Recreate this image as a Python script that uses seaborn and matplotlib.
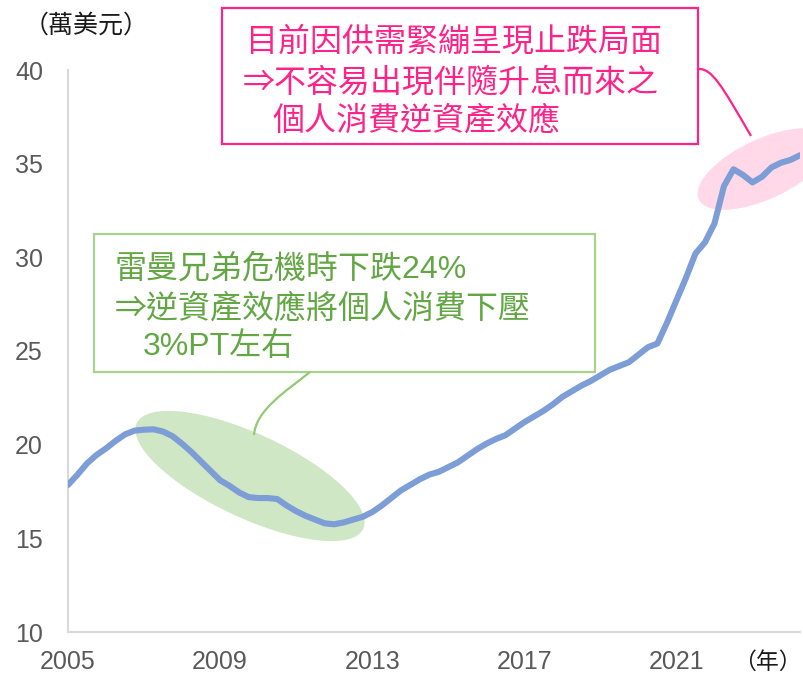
import matplotlib
matplotlib.use("Agg")
import matplotlib.pyplot as plt
import seaborn as sns
import numpy as np
import pandas as pd
from matplotlib.patches import Ellipse, Rectangle, PathPatch
from matplotlib.path import Path
from matplotlib.transforms import IdentityTransform

# quarterly values, 2005Q1 .. 2024Q2 (10k USD)
values_2005_2009 = [17.85, 18.4, 19.0, 19.45, 19.8, 20.2, 20.55, 20.75,
                    20.8, 20.82, 20.7, 20.45, 20.05, 19.6, 19.1, 18.6,
                    18.1, 17.8, 17.45, 17.2]
values_2010_2014 = [17.15, 17.15, 17.1, 16.75, 16.45, 16.2, 16.0, 15.8,
                    15.75, 15.85, 16.0, 16.15, 16.4, 16.75, 17.15, 17.55,
                    17.85, 18.15, 18.4, 18.55]
values_2015_2019 = [18.8, 19.05, 19.4, 19.75, 20.05, 20.3, 20.5, 20.85,
                    21.2, 21.5, 21.8, 22.15, 22.55, 22.85, 23.15, 23.4,
                    23.7, 24.0, 24.2, 24.4]
values_2020_2024 = [24.8, 25.2, 25.4, 26.5, 27.7, 28.9, 30.2, 30.8,
                    31.8, 33.8, 34.7, 34.4, 34.0, 34.3, 34.8, 35.05,
                    35.2, 35.45]

year_ticks = [2005, 2009, 2013, 2017, 2021]
y_ticks = [10, 15, 20, 25, 30, 35, 40]

pink_lines = ["目前因供需緊繃呈現止跌局面", "⇒不容易出現伴隨升息而來之", "個人消費逆資產效應"]
green_lines = ["雷曼兄弟危機時下跌24%", "⇒逆資產效應將個人消費下壓", "3%PT左右"]

values = values_2005_2009 + values_2010_2014 + values_2015_2019 + values_2020_2024
df = pd.DataFrame({"year": 2005 + np.arange(len(values)) / 4, "value": values})

sns.set_theme(style="white")
plt.rcParams["font.family"] = ["Liberation Sans", "Noto Sans CJK TC", "DejaVu Sans"]

W, H = 804, 678
fig = plt.figure(figsize=(W / 100, H / 100), dpi=100)
ax = fig.add_axes([68 / W, (H - 632) / H, (800 - 68) / W, (632 - 70) / H])

LINE = "#7C9DD6"
PINK = "#FF2288"
GREEN_TXT = "#62A744"
GREEN_EDGE = "#A9D18E"

# highlight ellipses (pixel coords, y from bottom)
ax.add_patch(Ellipse((250, H - 476), 250, 84, angle=-25, transform=IdentityTransform(),
                     facecolor="#D0E7C5", edgecolor="none", zorder=0, clip_on=False))
ax.add_patch(Ellipse((764, H - 169), 144, 60, angle=25, transform=IdentityTransform(),
                     facecolor="#FFD9E8", edgecolor="none", zorder=0, clip_on=False))

sns.lineplot(data=df, x="year", y="value", ax=ax, color=LINE, linewidth=4.4,
             solid_capstyle="round", solid_joinstyle="round", zorder=3)

ax.set_xlim(2005, 2024.25)
ax.set_ylim(10, 40)
ax.set_xticks(year_ticks)
ax.set_xticklabels([str(y) for y in year_ticks])
ax.set_yticks(y_ticks)
ax.set_xlabel("")
ax.set_ylabel("")
ax.tick_params(axis="both", length=0, labelsize=18, labelcolor="#595959")
ax.tick_params(axis="x", pad=13)
ax.tick_params(axis="y", pad=18)
for s in ["top", "right"]:
    ax.spines[s].set_visible(False)
for s in ["left", "bottom"]:
    ax.spines[s].set_color("#D9D9D9")
    ax.spines[s].set_linewidth(1.5)
ax.set_facecolor("none")


def fx(x):
    return x / W


def fy(y):
    return 1 - y / H


# pink annotation box
fig.add_artist(Rectangle((fx(222), fy(144)), (698 - 222) / W, (144 - 8) / H,
                         transform=fig.transFigure, facecolor="white", edgecolor=PINK,
                         linewidth=1.6, zorder=5))
for (x, y), t in zip([(246, 51), (243, 92), (272, 130)], pink_lines):
    fig.text(fx(x), fy(y), t, color=PINK, fontsize=23, ha="left", va="baseline", zorder=6)
pink_path = Path([(698, H - 69), (712, H - 68), (722, H - 86), (751, H - 136)],
                 [Path.MOVETO, Path.CURVE4, Path.CURVE4, Path.CURVE4])
fig.add_artist(PathPatch(pink_path, transform=IdentityTransform(), facecolor="none",
                         edgecolor=PINK, linewidth=1.6, zorder=5))

# green annotation box
fig.add_artist(Rectangle((fx(94), fy(372)), (595 - 94) / W, (372 - 234) / H,
                         transform=fig.transFigure, facecolor="white", edgecolor=GREEN_EDGE,
                         linewidth=1.6, zorder=5))
for (x, y), t in zip([(115, 278), (115, 318), (143, 355)], green_lines):
    fig.text(fx(x), fy(y), t, color=GREEN_TXT, fontsize=23, ha="left", va="baseline", zorder=6)
green_path = Path([(310, H - 372), (285, H - 392), (256, H - 410), (254, H - 435)],
                  [Path.MOVETO, Path.CURVE4, Path.CURVE4, Path.CURVE4])
fig.add_artist(PathPatch(green_path, transform=IdentityTransform(), facecolor="none",
                         edgecolor="#8FCB72", linewidth=1.6, zorder=5))

# unit labels
fig.text(fx(86), fy(26), "（萬美元）", fontsize=18, color="#1a1a1a", ha="center", va="center",
         family=["Noto Sans CJK TC", "DejaVu Sans"])
fig.text(fx(802), fy(662), "（年）", fontsize=16.5, color="#1a1a1a", ha="right", va="center",
         family=["Noto Sans CJK TC", "DejaVu Sans"])

fig.savefig("out.png", dpi=100)
